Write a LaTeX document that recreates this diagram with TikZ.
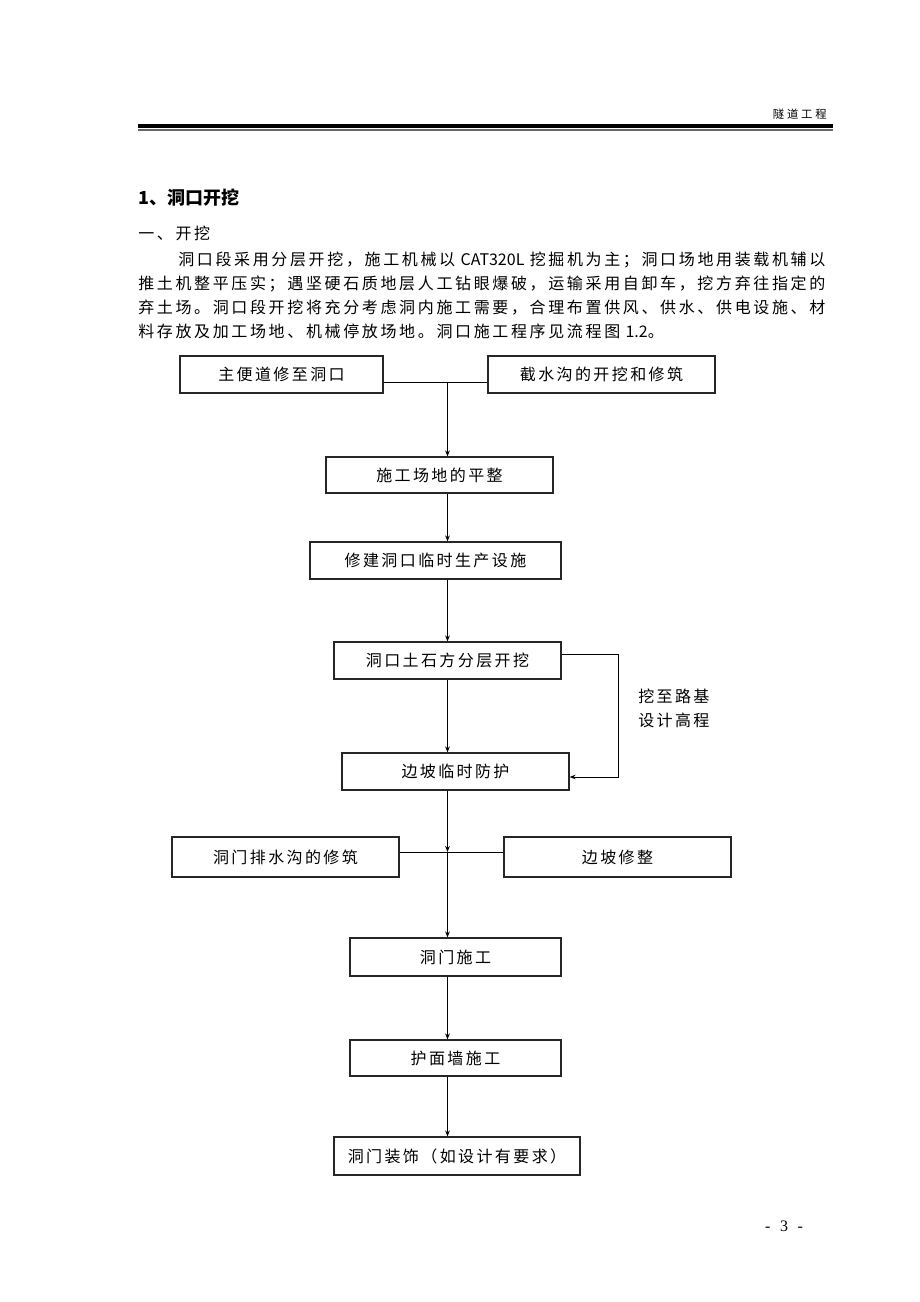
\documentclass[tikz,border=0pt]{standalone}
\usepackage{fontspec}
\setmainfont{Noto Sans CJK SC}
\newfontfamily\cjkls{Noto Sans CJK SC}[LetterSpace=15]
\newfontfamily\cjkbody{Noto Sans CJK SC}[LetterSpace=16.5]
\newfontfamily\cjkplain{Noto Sans CJK SC}
\newfontfamily\cjkhd{Noto Sans CJK SC}[LetterSpace=25]
\newfontfamily\latserif{Liberation Serif}
\usetikzlibrary{arrows.meta}
\newcommand\boxfont{\cjkls\fontsize{12}{14}\selectfont}
\newcommand\bodyfont{\cjkbody\fontsize{12}{14}\selectfont}
\newcommand\lat[1]{{\cjkplain\fontsize{12}{14}\selectfont#1}}
\begin{document}
\begin{tikzpicture}[x=0.75pt,y=-0.75pt,
  box/.style={draw=black!85, line width=0.9pt, inner sep=0pt, align=center, font=\boxfont},
  conn/.style={line width=0.75pt},
  arr/.style={conn, -{Stealth[length=4.5pt,width=3.5pt]}},
  txt/.style={inner sep=0pt, anchor=west, font=\bodyfont}]
\path[use as bounding box] (0,0) rectangle (920,1302);
% header
\node[anchor=east, inner sep=0pt, font=\cjkhd\fontsize{8.5}{10}\selectfont] (hd) at (827,114) {隧道工程};
\fill[black] (138,124.5) rectangle (833,128.5);
\fill[black!60] (138,129.5) rectangle (833,131);
% headings and paragraph
\node[txt, font=\cjkplain\bfseries\fontsize{13.5}{16}\selectfont] (h1) at (138,198) {1、洞口开挖};
\node[txt] (h2) at (138,233) {一、开挖};
\node[txt] (p1) at (178,260) {洞口段采用分层开挖，施工机械以\lat{\hspace{4pt}CAT320L\hspace{4pt}}挖掘机为主；洞口场地用装载机辅以};
\node[txt] (p2) at (138,284) {推土机整平压实；遇坚硬石质地层人工钻眼爆破，运输采用自卸车，挖方弃往指定的};
\node[txt] (p3) at (138,308) {弃土场。洞口段开挖将充分考虑洞内施工需要，合理布置供风、供水、供电设施、材};
\node[txt] (p4) at (138,331) {料存放及加工场地、机械停放场地。洞口施工程序见流程图\lat{\hspace{4pt}1.2}。};
% flowchart boxes
\node[box, minimum width=152.25pt, minimum height=27.75pt] (b1) at (281.5,374.5) {主便道修至洞口};
\node[box, minimum width=170.25pt, minimum height=27.75pt] (b2) at (601.5,374.5) {截水沟的开挖和修筑};
\node[box, minimum width=170.25pt, minimum height=27pt] (b3) at (439.5,475) {施工场地的平整};
\node[box, minimum width=188.25pt, minimum height=27.75pt] (b4) at (435.5,560.5) {修建洞口临时生产设施};
\node[box, minimum width=170.25pt, minimum height=27.75pt] (b5) at (447.5,660.5) {洞口土石方分层开挖};
\node[box, minimum width=170.25pt, minimum height=27.75pt] (b6) at (455.5,771.5) {边坡临时防护};
\node[box, minimum width=170.25pt, minimum height=30pt] (b7) at (285.5,857) {洞门排水沟的修筑};
\node[box, minimum width=170.25pt, minimum height=30pt] (b8) at (617.5,857) {边坡修整};
\node[box, minimum width=158.25pt, minimum height=28.5pt] (b9) at (455.5,957) {洞门施工};
\node[box, minimum width=158.25pt, minimum height=27pt] (b10) at (455.5,1058) {护面墙施工};
\node[box, minimum width=184.5pt, minimum height=28.5pt] (b11) at (457,1156) {洞门装饰（如设计有要求）};
\node[anchor=west, inner sep=0pt, align=left, font=\cjkls\fontsize{12}{18}\selectfont] (lab) at (638,708) {挖至路基\\设计高程};
% page number
\node[inner sep=0pt, font=\latserif\fontsize{12}{14}\selectfont] (pg) at (784,1226) {-\hspace{0.6em}3\hspace{0.6em}-};
% connectors
\coordinate (tr) at (447.5,0);
\coordinate (j1) at (447.5,382);
\coordinate (j2) at (447.5,852);
\coordinate (l1) at (618,654);
\coordinate (l2) at (618,777);
\draw[conn] (b1.east |- j1) -- (b2.west |- j1);
\draw[arr] (j1) -- (tr |- b3.north);
\draw[arr] (tr |- b3.south) -- (tr |- b4.north);
\draw[arr] (tr |- b4.south) -- (tr |- b5.north);
\draw[arr] (tr |- b5.south) -- (tr |- b6.north);
\draw[arr] (b5.east |- l1) -- (l1) -- (l2) -- (b6.east |- l2);
\draw[arr] (tr |- b6.south) -- (j2);
\draw[conn] (b7.east |- j2) -- (b8.west |- j2);
\draw[arr] (j2) -- (tr |- b9.north);
\draw[arr] (tr |- b9.south) -- (tr |- b10.north);
\draw[arr] (tr |- b10.south) -- (tr |- b11.north);
\end{tikzpicture}
\end{document}
